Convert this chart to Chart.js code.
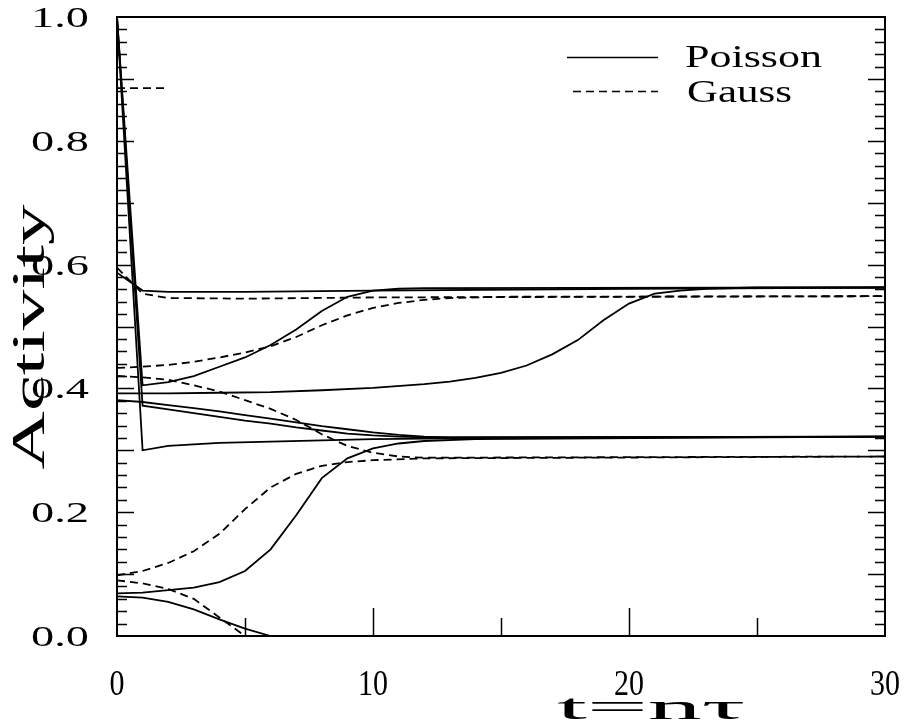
<!DOCTYPE html>
<html>
<head>
<meta charset="utf-8">
<script src="https://cdn.jsdelivr.net/npm/chart.js@4.4.1/dist/chart.umd.min.js"></script>
<style>
  html, body { margin: 0; padding: 0; background: #fff; }
</style>
</head>
<body>
<canvas id="activity-chart" width="911" height="721"></canvas>
<script>
// curves, [t, activity]
const poissonA = [[0, 1.0], [1, 0.405], [2, 0.41], [3, 0.42], [4, 0.435], [5, 0.45], [6, 0.47], [7, 0.495], [8, 0.525], [9, 0.548], [10, 0.558], [11, 0.561], [12, 0.562], [30, 0.563]];
const poissonB = [[0, 1.0], [1, 0.30], [2, 0.307], [4, 0.312], [6, 0.314], [8, 0.316], [10, 0.318], [15, 0.32], [30, 0.322]];
const poissonC = [[0, 0.587], [1, 0.558], [2, 0.556], [5, 0.556], [10, 0.558], [20, 0.561], [30, 0.563]];
const poissonD = [[0, 0.392], [2, 0.392], [4, 0.393], [6, 0.394], [8, 0.397], [10, 0.401], [12, 0.407], [13, 0.411], [14, 0.417], [15, 0.425], [16, 0.437], [17, 0.455], [18, 0.478], [19, 0.51], [20, 0.537], [21, 0.553], [22, 0.558], [23, 0.561], [25, 0.563], [30, 0.563]];
const poissonE = [[0, 0.381], [1, 0.378], [2, 0.373], [3, 0.368], [4, 0.363], [5, 0.357], [6, 0.351], [7, 0.345], [8, 0.339], [9, 0.334], [10, 0.329], [11, 0.325], [12, 0.322], [13, 0.321], [30, 0.322]];
const poissonF = [[0, 1.0], [1, 0.372], [2, 0.366], [3, 0.36], [4, 0.354], [5, 0.348], [6, 0.343], [7, 0.337], [8, 0.332], [9, 0.327], [10, 0.324], [11, 0.322], [12, 0.321], [30, 0.322]];
const poissonG = [[0, 0.069], [1, 0.07], [2, 0.074], [3, 0.078], [4, 0.087], [5, 0.105], [6, 0.14], [7, 0.195], [8, 0.255], [9, 0.287], [10, 0.303], [11, 0.311], [12, 0.315], [14, 0.318], [30, 0.322]];
const poissonH = [[0, 0.064], [1, 0.062], [2, 0.055], [3, 0.043], [4, 0.027], [5, 0.012], [6, 0]];

const gaussA = [[0, 0.595], [1, 0.553], [2, 0.546], [5, 0.545], [10, 0.547], [20, 0.548], [30, 0.549]];
const gaussB = [[0, 0.433], [1, 0.435], [2, 0.438], [3, 0.443], [4, 0.45], [5, 0.458], [6, 0.468], [7, 0.483], [8, 0.502], [9, 0.518], [10, 0.53], [11, 0.538], [12, 0.543], [13, 0.546], [15, 0.548], [30, 0.549]];
const gaussC = [[0, 0.42], [1, 0.418], [2, 0.414], [3, 0.405], [4, 0.395], [5, 0.381], [6, 0.367], [7, 0.349], [8, 0.326], [9, 0.307], [10, 0.296], [11, 0.29], [12, 0.288], [30, 0.29]];
const gaussD = [[0, 0.098], [1, 0.105], [2, 0.118], [3, 0.137], [4, 0.165], [5, 0.205], [6, 0.24], [7, 0.262], [8, 0.275], [9, 0.281], [10, 0.284], [12, 0.287], [30, 0.29]];
const gaussE = [[0, 0.09], [1, 0.085], [2, 0.076], [3, 0.06], [4, 0.03], [5, 0]];
const gaussMark = [[0, 0.885], [1.9, 0.885]];

const xTickLabels = ['0', '10', '20', '30'];
const yTickLabels = ['0.0', '0.2', '0.4', '0.6', '0.8', '1.0'];
const legendLabels = ['Poisson', 'Gauss'];

const poissonCurves = [poissonA, poissonB, poissonC, poissonD, poissonE, poissonF, poissonG, poissonH];
const gaussCurves = [gaussA, gaussB, gaussC, gaussD, gaussE, gaussMark];

function toPoints(curve) {
  return curve.map(([t, v]) => ({ x: t, y: v }));
}

function lineDataset(curve, dashed) {
  return {
    data: toPoints(curve),
    borderColor: '#000',
    borderWidth: 1.8,
    borderDash: dashed ? [8, 5] : [],
    pointRadius: 0,
    tension: 0,
    fill: false
  };
}

// draw text squeezed/stretched to a given width (the original type is wide)
function fitText(ctx, text, x, y, font, width, align, angle) {
  ctx.save();
  ctx.font = font;
  ctx.textAlign = align;
  ctx.textBaseline = 'alphabetic';
  const sx = width / ctx.measureText(text).width;
  ctx.translate(x, y);
  if (angle) ctx.rotate(angle);
  ctx.scale(sx, 1);
  ctx.fillText(text, 0, 0);
  ctx.restore();
}

const SERIF = '"Liberation Serif"';

const framePlugin = {
  id: 'frame',
  afterDatasetsDraw(chart) {
    const { ctx, chartArea: a, scales: { x, y } } = chart;
    ctx.save();
    ctx.strokeStyle = '#000';
    ctx.fillStyle = '#000';
    ctx.lineWidth = 2;
    ctx.strokeRect(a.left, a.top, a.right - a.left, a.bottom - a.top);

    // inward ticks
    ctx.lineWidth = 1.5;
    ctx.beginPath();
    for (let i = 1; i < 50; i++) {
      const py = Math.round(y.getPixelForValue(i / 50)) + 0.5;
      const len = i % 5 === 0 ? 17 : 10;
      ctx.moveTo(a.left, py); ctx.lineTo(a.left + len, py);
      ctx.moveTo(a.right, py); ctx.lineTo(a.right - len, py);
    }
    for (let t = 5; t < 30; t += 5) {
      const px = Math.round(x.getPixelForValue(t)) + 0.5;
      const len = t % 10 === 0 ? 28 : 18;
      ctx.moveTo(px, a.bottom); ctx.lineTo(px, a.bottom - len);
    }
    ctx.stroke();

    // tick labels
    yTickLabels.forEach(label => {
      const py = y.getPixelForValue(parseFloat(label));
      fitText(ctx, label, 89, py + 10, '29px ' + SERIF, 58, 'right');
    });
    xTickLabels.forEach(label => {
      const px = x.getPixelForValue(parseFloat(label));
      fitText(ctx, label, px, 695, '35px ' + SERIF, 15 * label.length, 'center');
    });

    // axis titles
    fitText(ctx, 'Activity', 44, 337, '46px ' + SERIF, 265, 'center', -Math.PI / 2);
    fitText(ctx, 't=nτ', 651, 719, '36px ' + SERIF, 188, 'center');

    // legend
    ctx.lineWidth = 1.6;
    ctx.beginPath();
    ctx.moveTo(567, 57.5); ctx.lineTo(658, 57.5);
    ctx.stroke();
    ctx.setLineDash([8, 5]);
    ctx.beginPath();
    ctx.moveTo(573, 91.5); ctx.lineTo(658, 91.5);
    ctx.stroke();
    ctx.setLineDash([]);
    fitText(ctx, legendLabels[0], 685, 67, '32px ' + SERIF, 137, 'left');
    fitText(ctx, legendLabels[1], 687, 102, '32px ' + SERIF, 105, 'left');
    ctx.restore();
  }
};

function drawChart() {
  const canvas = document.getElementById('activity-chart');
  const datasets = [
    ...poissonCurves.map(c => lineDataset(c, false)),
    ...gaussCurves.map(c => lineDataset(c, true))
  ];

  new Chart(canvas, {
    type: 'line',
    data: { datasets },
    options: {
      responsive: false,
      animation: false,
      layout: { padding: { top: 17, right: 26, bottom: 0, left: 0 } },
      plugins: { legend: { display: false }, tooltip: { enabled: false } },
      scales: {
        x: {
          type: 'linear',
          min: 0,
          max: 30,
          grid: { display: false },
          border: { display: false },
          ticks: { display: false },
          afterFit: scale => { scale.height = 85; }
        },
        y: {
          min: 0,
          max: 1,
          grid: { display: false },
          border: { display: false },
          ticks: { display: false },
          afterFit: scale => { scale.width = 117; }
        }
      }
    },
    plugins: [framePlugin]
  });
}

drawChart();
</script>
</body>
</html>
